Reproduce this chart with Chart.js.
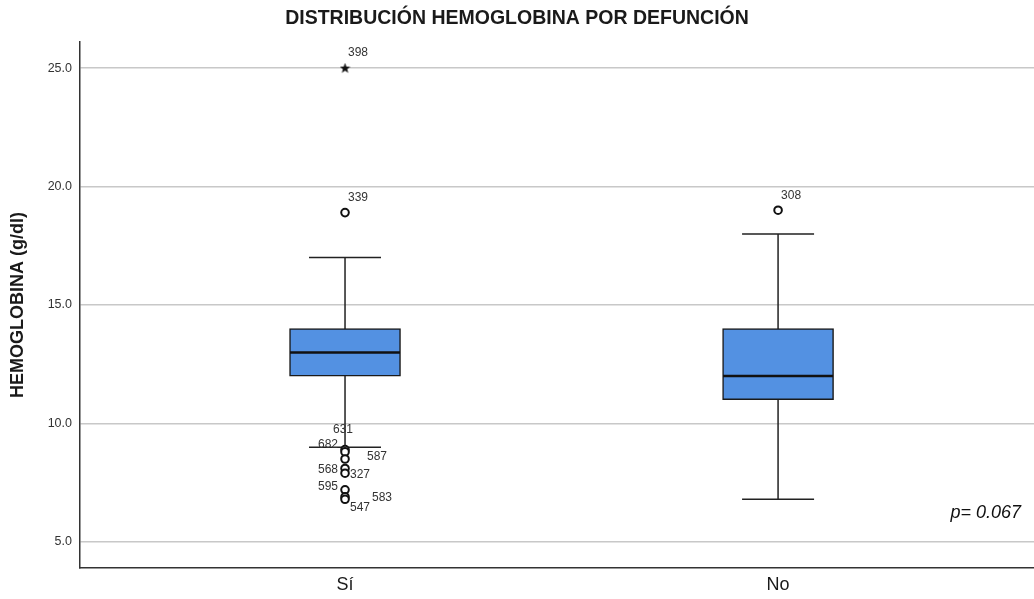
<!DOCTYPE html>
<html lang="es">
<head>
<meta charset="UTF-8">
<title>Distribución hemoglobina por defunción</title>
<script src="https://cdn.jsdelivr.net/npm/chart.js"></script>
<style>
  html, body { margin: 0; padding: 0; background: #fff; }
</style>
</head>
<body>
<canvas id="grafico" width="1034" height="599"></canvas>
<script>
// Datos del diagrama de cajas
const grupos = ['Sí', 'No'];
const q1 = [12, 11];
const mediana = [13, 12];
const q3 = [14, 14];
const bigoteMin = [9.0, 6.8];
const bigoteMax = [17, 18];

// Valores atípicos (círculos)
const atipicoId = ['339', '631', '682', '587', '568', '327', '595', '583', '547', '308'];
const atipicoGrupo = [0, 0, 0, 0, 0, 0, 0, 0, 0, 1];
const atipicoValor = [18.9, 8.9, 8.8, 8.5, 8.1, 7.9, 7.2, 6.9, 6.8, 19.0];

// Valores extremos (estrella)
const extremoId = ['398'];
const extremoGrupo = [0];
const extremoValor = [25.0];

const ticksY = [5, 10, 15, 20, 25];
const textoP = 'p= 0.067';

const FUENTE = "'Liberation Sans', Arial, sans-serif";

// Desplazamiento de las etiquetas de los casos respecto al punto (px)
const desplazamiento = {
  '398': [3, -15], '339': [3, -15], '308': [3, -15],
  '631': [-12, -20], '682': [-27, -7], '587': [22, -2],
  '568': [-27, 1], '327': [5, 1], '595': [-27, -3],
  '583': [27, 1], '547': [5, 8]
};

// estrella rellena para los valores extremos
const estrella = document.createElement('canvas');
estrella.width = 11; estrella.height = 11;
(function () {
  const c = estrella.getContext('2d');
  c.fillStyle = '#111';
  c.beginPath();
  for (let k = 0; k < 10; k++) {
    const r = k % 2 === 0 ? 5.5 : 2.3;
    const a = -Math.PI / 2 + k * Math.PI / 5;
    const px = 5.5 + r * Math.cos(a), py = 5.8 + r * Math.sin(a);
    if (k === 0) c.moveTo(px, py); else c.lineTo(px, py);
  }
  c.closePath();
  c.fill();
})();

const cajaPlugin = {
  id: 'caja',
  beforeDatasetsDraw(chart) {
    // bigotes
    const ctx = chart.ctx, xs = chart.scales.x, ys = chart.scales.y;
    ctx.save();
    ctx.strokeStyle = '#222';
    ctx.lineWidth = 1.5;
    grupos.forEach((g, i) => {
      const x = xs.getPixelForValue(i + 1);
      ctx.beginPath();
      ctx.moveTo(x, ys.getPixelForValue(bigoteMin[i]));
      ctx.lineTo(x, ys.getPixelForValue(bigoteMax[i]));
      [bigoteMin[i], bigoteMax[i]].forEach(v => {
        const y = ys.getPixelForValue(v);
        ctx.moveTo(x - 36, y);
        ctx.lineTo(x + 36, y);
      });
      ctx.stroke();
    });
    ctx.restore();
  },
  afterDatasetsDraw(chart) {
    const ctx = chart.ctx, xs = chart.scales.x, ys = chart.scales.y;
    ctx.save();
    // medianas
    ctx.strokeStyle = '#111';
    ctx.lineWidth = 2.5;
    grupos.forEach((g, i) => {
      const x = xs.getPixelForValue(i + 1);
      const y = ys.getPixelForValue(mediana[i]);
      ctx.beginPath();
      ctx.moveTo(x - 55, y);
      ctx.lineTo(x + 55, y);
      ctx.stroke();
    });
    // etiquetas de casos
    ctx.font = '12px ' + FUENTE;
    ctx.fillStyle = '#333';
    ctx.textAlign = 'left';
    ctx.textBaseline = 'middle';
    const etiquetar = (ids, grp, vals) => ids.forEach((id, i) => {
      const d = desplazamiento[id] || [3, -15];
      const x = xs.getPixelForValue(grp[i] + 1);
      const y = ys.getPixelForValue(vals[i]);
      ctx.fillText(id, x + d[0], y + d[1]);
    });
    etiquetar(atipicoId, atipicoGrupo, atipicoValor);
    etiquetar(extremoId, extremoGrupo, extremoValor);
    // valor p
    const area = chart.chartArea;
    ctx.font = 'italic 18px ' + FUENTE;
    ctx.fillStyle = '#111';
    ctx.textAlign = 'right';
    ctx.fillText(textoP, area.right - 13, area.bottom - 55);
    ctx.restore();
  }
};

const ctx = document.getElementById('grafico').getContext('2d');
new Chart(ctx, {
  type: 'bar',
  data: {
    datasets: [
      {
        label: 'Caja',
        data: grupos.map((g, i) => ({ x: i + 1, y: [q1[i], q3[i]] })),
        backgroundColor: '#5391e2',
        borderColor: '#1a1a1a',
        borderWidth: 1.5,
        borderSkipped: false,
        barThickness: 111,
        order: 2
      },
      {
        type: 'scatter',
        label: 'Atípicos',
        data: atipicoValor.map((v, i) => ({ x: atipicoGrupo[i] + 1, y: v })),
        pointStyle: 'circle',
        pointRadius: 3.8,
        borderWidth: 2,
        borderColor: '#111',
        backgroundColor: '#fff',
        order: 1
      },
      {
        type: 'scatter',
        label: 'Extremos',
        data: extremoValor.map((v, i) => ({ x: extremoGrupo[i] + 1, y: v })),
        pointStyle: estrella,
        pointRadius: 5,
        order: 1
      }
    ]
  },
  options: {
    responsive: false,
    animation: false,
    layout: { padding: 0, autoPadding: false },
    plugins: {
      legend: { display: false },
      tooltip: { enabled: false },
      title: {
        display: true,
        text: 'DISTRIBUCIÓN HEMOGLOBINA POR DEFUNCIÓN',
        color: '#1a1a1a',
        font: { family: FUENTE, size: 19.5, weight: 'bold' },
        padding: { top: 6.5, bottom: 12.1 }
      }
    },
    scales: {
      x: {
        type: 'linear',
        offset: false,
        min: 0.388,
        max: 2.591,
        afterBuildTicks: s => { s.ticks = grupos.map((g, i) => ({ value: i + 1 })); },
        afterFit: s => { s.height = 31; },
        ticks: {
          callback: v => grupos[v - 1],
          color: '#1a1a1a',
          font: { family: FUENTE, size: 18 },
          padding: 6
        },
        grid: { display: false, drawTicks: false },
        border: { display: true, color: '#333', width: 1.5 }
      },
      y: {
        min: 3.9,
        max: 26.1,
        afterBuildTicks: s => { s.ticks = ticksY.map(v => ({ value: v })); },
        afterFit: s => { s.width = 80; },
        ticks: {
          callback: v => v.toFixed(1),
          color: '#333',
          font: { family: FUENTE, size: 12.5 },
          padding: 8
        },
        grid: { color: '#c8c8c8', lineWidth: 1.5, drawTicks: false },
        border: { display: true, color: '#333', width: 1.5 },
        title: {
          display: true,
          text: 'HEMOGLOBINA (g/dl)',
          color: '#1a1a1a',
          font: { family: FUENTE, size: 18, weight: 'bold' },
          padding: { top: 7, bottom: 0 }
        }
      }
    }
  },
  plugins: [cajaPlugin]
});
</script>
</body>
</html>
